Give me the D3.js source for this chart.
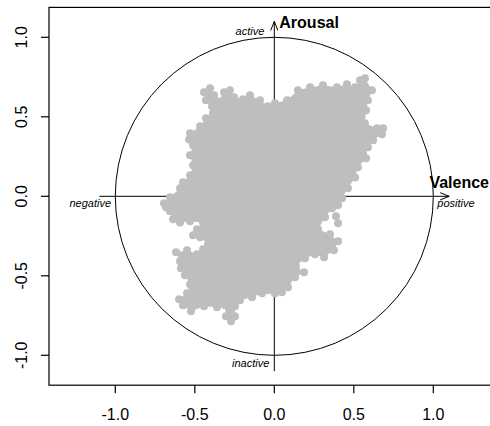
<!DOCTYPE html>
<html><head><meta charset="utf-8">
<script src="https://cdn.jsdelivr.net/npm/d3@7"></script>
<style>body{margin:0;background:#fff}svg{display:block}</style>
</head><body>
<script>
// Outline of the point cloud (valence, arousal)
const cloudValence = [-0.694,-0.656,-0.593,-0.574,-0.530,-0.511,-0.530,-0.511,-0.536,-0.530,-0.467,-0.430,-0.386,-0.392,-0.430,-0.442,-0.404,-0.379,-0.354,-0.316,-0.279,-0.253,-0.197,-0.153,-0.090,-0.040,0.004,0.080,0.149,0.225,0.306,0.394,0.457,0.508,0.539,0.570,0.614,0.589,0.577,0.570,0.646,0.684,0.677,0.621,0.589,0.558,0.577,0.526,0.508,0.463,0.426,0.401,0.363,0.319,0.275,0.350,0.401,0.375,0.313,0.256,0.193,0.136,0.187,0.130,0.086,0.048,0.004,-0.040,-0.077,-0.140,-0.216,-0.247,-0.247,-0.272,-0.304,-0.310,-0.360,-0.442,-0.524,-0.574,-0.599,-0.549,-0.530,-0.562,-0.587,-0.593,-0.618,-0.549,-0.486,-0.448,-0.417,-0.467,-0.511,-0.486,-0.448,-0.530,-0.593,-0.637,-0.656,-0.681];
const cloudArousal = [-0.044,-0.006,0.050,0.088,0.132,0.195,0.258,0.321,0.358,0.396,0.440,0.491,0.522,0.566,0.604,0.654,0.679,0.635,0.597,0.654,0.667,0.623,0.610,0.635,0.604,0.566,0.585,0.604,0.667,0.686,0.698,0.686,0.704,0.686,0.730,0.742,0.667,0.604,0.541,0.459,0.428,0.428,0.390,0.352,0.308,0.270,0.239,0.182,0.119,0.050,-0.013,-0.057,-0.075,-0.132,-0.208,-0.239,-0.283,-0.340,-0.384,-0.365,-0.390,-0.440,-0.478,-0.509,-0.572,-0.604,-0.610,-0.591,-0.610,-0.635,-0.654,-0.692,-0.755,-0.786,-0.755,-0.686,-0.698,-0.692,-0.723,-0.686,-0.648,-0.610,-0.553,-0.497,-0.453,-0.409,-0.352,-0.340,-0.365,-0.333,-0.302,-0.258,-0.245,-0.208,-0.164,-0.157,-0.164,-0.145,-0.094,-0.069];
// isolated points
const strayValence = [0.388, 0.401];
const strayArousal = [-0.126, -0.170];

const xTicks = [-1.0, -0.5, 0.0, 0.5, 1.0];
const yTicks = [-1.0, -0.5, 0.0, 0.5, 1.0];
const xLim = [-1.417, 1.417];
const yLim = [-1.188, 1.188];

const W = 490, H = 426;
const svg = d3.select("body").append("svg").attr("width", W).attr("height", H);
const x = d3.scaleLinear().domain([-1, 1]).range([115.3, 433.3]);
const y = d3.scaleLinear().domain([-1, 1]).range([355.3, 37.3]);
const font = "'Liberation Sans', Arial, sans-serif";

// plot box
svg.append("rect")
  .attr("x", x(xLim[0])).attr("y", y(yLim[1]))
  .attr("width", x(xLim[1]) - x(xLim[0])).attr("height", y(yLim[0]) - y(yLim[1]))
  .attr("fill", "none").attr("stroke", "#000").attr("stroke-width", 1.2);

// x axis
const xb = y(yLim[0]);
xTicks.forEach(t => {
  svg.append("line").attr("x1", x(t)).attr("x2", x(t)).attr("y1", xb).attr("y2", xb + 8)
    .attr("stroke", "#000").attr("stroke-width", 1.2);
  svg.append("text").attr("x", x(t)).attr("y", 420).attr("text-anchor", "middle")
    .attr("font-family", font).attr("font-size", 16).text(d3.format(".1f")(t).replace("−", "-"));
});
// y axis
const yb = x(xLim[0]);
yTicks.forEach(t => {
  svg.append("line").attr("x1", yb).attr("x2", yb - 8).attr("y1", y(t)).attr("y2", y(t))
    .attr("stroke", "#000").attr("stroke-width", 1.2);
  svg.append("text").attr("transform", `translate(27,${y(t)}) rotate(-90)`).attr("text-anchor", "middle")
    .attr("font-family", font).attr("font-size", 16).text(d3.format(".1f")(t).replace("−", "-"));
});

// unit circle
svg.append("circle").attr("cx", x(0)).attr("cy", y(0)).attr("r", x(1) - x(0))
  .attr("fill", "none").attr("stroke", "#000").attr("stroke-width", 1);

// axes lines with arrows
svg.append("line").attr("x1", x(-1.1)).attr("x2", x(1.1)).attr("y1", y(0)).attr("y2", y(0))
  .attr("stroke", "#000").attr("stroke-width", 1);
svg.append("line").attr("x1", x(0)).attr("x2", x(0)).attr("y1", y(-1.1)).attr("y2", y(1.1))
  .attr("stroke", "#000").attr("stroke-width", 1);
const ah = 9, aw = 3.6;
svg.append("path").attr("d", `M${x(1.1) - ah},${y(0) - aw}L${x(1.1)},${y(0)}L${x(1.1) - ah},${y(0) + aw}`)
  .attr("fill", "none").attr("stroke", "#000").attr("stroke-width", 1);
svg.append("path").attr("d", `M${x(0) - aw},${y(1.1) + ah}L${x(0)},${y(1.1)}L${x(0) + aw},${y(1.1) + ah}`)
  .attr("fill", "none").attr("stroke", "#000").attr("stroke-width", 1);

// labels
svg.append("text").attr("x", x(0) + 5).attr("y", 28.3).attr("font-family", font)
  .attr("font-size", 16).attr("font-weight", "bold").text("Arousal");
svg.append("text").attr("x", W - 1).attr("y", 188.3).attr("text-anchor", "end").attr("font-family", font)
  .attr("font-size", 16).attr("font-weight", "bold").text("Valence");
const small = [
  {t: "active", x: x(0) - 10, y: 34.5, a: "end"},
  {t: "inactive", x: x(0) - 5, y: 367.3, a: "end"},
  {t: "negative", x: 111, y: 207.3, a: "end"},
  {t: "positive", x: 437.3, y: 207.3, a: "start"}
];
small.forEach(d => svg.append("text").attr("x", d.x).attr("y", d.y).attr("text-anchor", d.a)
  .attr("font-family", font).attr("font-size", 11).attr("font-style", "italic").text(d.t));

// point cloud
const pts = cloudValence.map((v, i) => [v, cloudArousal[i]]);
const grey = "#bebebe";
svg.append("path").datum(pts)
  .attr("d", d3.line().x(d => x(d[0])).y(d => y(d[1])).curve(d3.curveLinearClosed))
  .attr("fill", grey).attr("stroke", "none");
const all = pts.concat(strayValence.map((v, i) => [v, strayArousal[i]]));
svg.append("g").selectAll("circle").data(all).join("circle")
  .attr("cx", d => x(d[0])).attr("cy", d => y(d[1])).attr("r", 4).attr("fill", grey);
</script>
</body></html>
